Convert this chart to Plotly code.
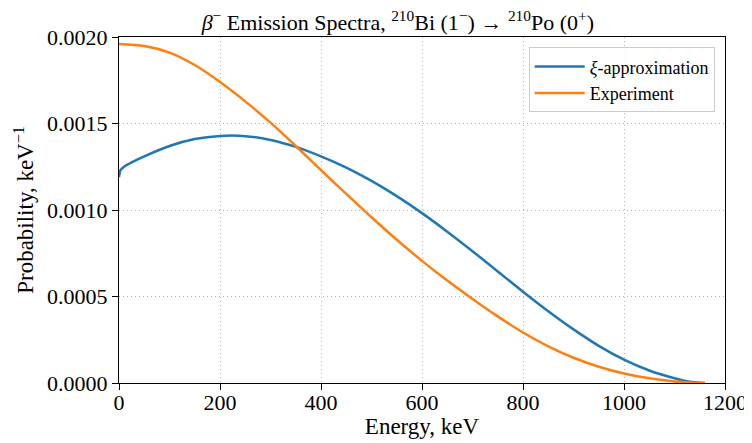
import plotly.graph_objects as go

# Energy grid and values
energy_xi = [0, 3, 10, 25, 50, 100, 150, 200, 250, 300, 350, 400, 450, 500, 550, 600,
             650, 700, 750, 800, 850, 900, 950, 1000, 1050, 1100, 1130, 1160]
prob_xi = [0.00119, 0.00123, 0.00125, 0.001275, 0.00131, 0.00137, 0.00141, 0.001428,
           0.001427, 0.001405, 0.001365, 0.00131, 0.001245, 0.001168, 0.00108, 0.000982,
           0.000875, 0.000762, 0.000645, 0.000528, 0.000415, 0.00031, 0.000215, 0.000135,
           0.000072, 0.000027, 0.000007, 0.0]

energy_exp = [0, 50, 100, 150, 200, 250, 300, 350, 400, 450, 500, 550, 600, 650, 700, 750,
              800, 850, 900, 950, 1000, 1050, 1100, 1160]
prob_exp = [0.00196, 0.001948, 0.00191, 0.001838, 0.00174, 0.001628, 0.001505, 0.00137,
            0.00123, 0.001093, 0.000958, 0.000828, 0.000706, 0.000592, 0.000486, 0.000385,
            0.000292, 0.000212, 0.000146, 0.000094, 0.000055, 0.000027, 0.000009, 0.0]

x_ticks = [0, 200, 400, 600, 800, 1000, 1200]
y_ticks = [0.0, 0.0005, 0.0010, 0.0015, 0.0020]

FONT = "Liberation Serif"

fig = go.Figure()
fig.add_trace(go.Scatter(x=energy_xi, y=prob_xi, mode="lines", name="<i>ξ</i>-approximation",
                         line=dict(color="#1f77b4", width=2.5, shape="spline", smoothing=0.8)))
fig.add_trace(go.Scatter(x=energy_exp, y=prob_exp, mode="lines", name="Experiment",
                         line=dict(color="#ff7f0e", width=2.5, shape="spline", smoothing=0.8)))

axis_common = dict(showline=True, linecolor="black", linewidth=1.2, mirror=True,
                   ticks="outside", ticklen=6, tickwidth=1.2, tickcolor="black",
                   showgrid=True, gridcolor="#b0b0b0", griddash="1px,3px", gridwidth=1,
                   zeroline=False, automargin=False,
                   tickfont=dict(family=FONT, size=22, color="black"))

# the page body has an 8px default margin, so the figure is sized to fit the window
fig.update_layout(
    width=744, height=435,
    margin=dict(l=111, r=27, t=29, b=60),
    paper_bgcolor="white", plot_bgcolor="white",
    font=dict(family=FONT, color="black"),
    title=dict(text="<i>β</i><sup>−</sup> Emission Spectra, <sup>210</sup>Bi (1<sup>−</sup>) → <sup>210</sup>Po (0<sup>+</sup>)",
               x=0.524, xanchor="center", y=0.966, yanchor="middle",
               font=dict(family=FONT, size=22, color="black")),
    legend=dict(x=0.983, y=0.97, xanchor="right", yanchor="top",
                bgcolor="rgba(255,255,255,0.8)", bordercolor="#cccccc", borderwidth=1,
                itemwidth=50,
                font=dict(family=FONT, size=18, color="black")),
    showlegend=True,
)
fig.update_xaxes(range=[0, 1200], tickvals=x_ticks, ticktext=[str(v) for v in x_ticks],
                 ticklabelstandoff=-7,
                 title=dict(text="Energy, keV", font=dict(family=FONT, size=23), standoff=0),
                 **axis_common)
fig.update_yaxes(range=[0, 0.002], tickvals=y_ticks, tickformat=".4f",
                 title=dict(text="Probability, keV<sup>−1</sup>", font=dict(family=FONT, size=23), standoff=6),
                 **axis_common)

fig.write_html("out.html")
